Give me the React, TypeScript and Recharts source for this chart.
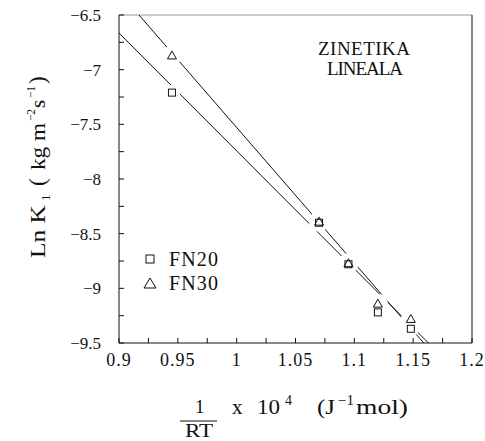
import { ScatterChart, Scatter, XAxis, YAxis, Legend, ReferenceLine } from "recharts";

// measured points, ln K1 vs 1/RT x 10^4
const fn20 = [
  { x: 0.945, y: -7.21 },
  { x: 1.07, y: -8.4 },
  { x: 1.095, y: -8.78 },
  { x: 1.12, y: -9.22 },
  { x: 1.148, y: -9.37 },
];
const fn30 = [
  { x: 0.945, y: -6.87 },
  { x: 1.07, y: -8.39 },
  { x: 1.095, y: -8.77 },
  { x: 1.12, y: -9.14 },
  { x: 1.148, y: -9.28 },
];

// fitted straight lines (end points)
const fit20 = [
  { x: 0.9, y: -6.665 },
  { x: 1.163, y: -9.5 },
];
const fit30 = [
  { x: 0.917, y: -6.5 },
  { x: 1.159, y: -9.5 },
];

const xTicks = [0.9, 0.925, 0.95, 0.975, 1, 1.025, 1.05, 1.075, 1.1, 1.125, 1.15, 1.175, 1.2];
const xMajor = ["0.9", "0.95", "1", "1.05", "1.1", "1.15", "1.2"];
const yTicks = [-9.5, -9.25, -9, -8.75, -8.5, -8.25, -8, -7.75, -7.5, -7.25, -7, -6.75, -6.5];
const yMajor = ["-9.5", "-9", "-8.5", "-8", "-7.5", "-7", "-6.5"];

const ink = "#111";
const serif = "Liberation Serif, DejaVu Serif, serif";
const txt = { fontFamily: serif };
const MINUS = "\u2212";

function XTick(props: any) {
  const { x, y, payload } = props;
  const label = String(payload.value);
  const major = xMajor.includes(label);
  return (
    <g>
      <line x1={x} y1={y} x2={x} y2={y - 5} stroke={ink} />
      {major && (
        <text x={x} y={y + 23} textAnchor="middle" fontSize={18} letterSpacing={1} style={txt} fill={ink}>
          {label}
        </text>
      )}
    </g>
  );
}

function YTick(props: any) {
  const { x, y, payload } = props;
  const label = String(payload.value);
  const major = yMajor.includes(label);
  return (
    <g>
      <line x1={x} y1={y} x2={x + 5} y2={y} stroke={ink} />
      {major && (
        <text x={x - 18} y={y + 6} textAnchor="end" fontSize={17} style={txt} fill={ink}>
          {label.replace("-", MINUS)}
        </text>
      )}
    </g>
  );
}

const Halo = (r: number) => (p: any) => <circle cx={p.cx} cy={p.cy} r={r} fill="#fff" />;

const Square = (p: any) => (
  <rect x={p.cx - 3.5} y={p.cy - 3.5} width={7} height={7} fill="none" stroke={ink} />
);

const Triangle = (p: any) => (
  <polygon
    points={`${p.cx},${p.cy - 4.5} ${p.cx - 4.5},${p.cy + 3.5} ${p.cx + 4.5},${p.cy + 3.5}`}
    fill="none"
    stroke={ink}
  />
);

const NoDot = () => <g />;

function LegendBox(props: any) {
  const items = (props.payload || []).filter((e: any) => e.value === "FN20" || e.value === "FN30");
  return (
    <svg width={100} height={52}>
      {items.map((e: any, i: number) => {
        const cy = 14 + i * 24;
        return (
          <g key={e.value}>
            {e.value === "FN20" ? (
              <rect x={13} y={cy - 4} width={8} height={8} fill="none" stroke={ink} />
            ) : (
              <polygon points={`17,${cy - 5} 11,${cy + 5} 23,${cy + 5}`} fill="none" stroke={ink} />
            )}
            <text x={36} y={cy + 7} fontSize={20} textLength={49} lengthAdjust="spacing" style={txt} fill={ink}>
              {e.value}
            </text>
          </g>
        );
      })}
    </svg>
  );
}

// piece of a title: text placed at x, optionally stretched to a fixed length
function Piece({ x, y, len, size, children }: any) {
  return (
    <text x={x} y={y} fontSize={size} textLength={len} lengthAdjust="spacingAndGlyphs" style={txt} fill={ink}>
      {children}
    </text>
  );
}

export default function App() {
  return (
    <div style={{ position: "absolute", left: 0, top: 0, width: 485, height: 441, background: "#fff" }}>
      <ScatterChart width={485} height={441} margin={{ top: 15, right: 13, bottom: 68, left: 0 }}>
        <XAxis
          type="number"
          dataKey="x"
          domain={[0.9, 1.2]}
          ticks={xTicks}
          interval={0}
          allowDataOverflow
          height={30}
          tickSize={0}
          tickMargin={0}
          tickLine={false}
          tick={<XTick />}
          stroke={ink}
        />
        <YAxis
          type="number"
          dataKey="y"
          domain={[-9.5, -6.5]}
          ticks={yTicks}
          interval={0}
          allowDataOverflow
          width={119}
          tickSize={0}
          tickMargin={0}
          tickLine={false}
          tick={<YTick />}
          stroke={ink}
        />
        <ReferenceLine y={-6.5} stroke="#999" />
        <ReferenceLine x={1.2} stroke={ink} />
        <Scatter name="fit FN20" data={fit20} line={{ stroke: ink, strokeWidth: 1 }} shape={NoDot} legendType="none" isAnimationActive={false} />
        <Scatter name="fit FN30" data={fit30} line={{ stroke: ink, strokeWidth: 1 }} shape={NoDot} legendType="none" isAnimationActive={false} />
        <Scatter name="halo FN20" data={fn20} shape={Halo(8)} legendType="none" isAnimationActive={false} />
        <Scatter name="halo FN30" data={fn30} shape={Halo(10)} legendType="none" isAnimationActive={false} />
        <Scatter name="FN20" data={fn20} shape={Square} isAnimationActive={false} />
        <Scatter name="FN30" data={fn30} shape={Triangle} isAnimationActive={false} />
        <Legend
          layout="vertical"
          align="center"
          verticalAlign="middle"
          content={<LegendBox />}
          wrapperStyle={{ position: "absolute", left: 133, top: 245, width: 100, height: 52 }}
        />
      </ScatterChart>
      <svg width={485} height={441} style={{ position: "absolute", left: 0, top: 0, pointerEvents: "none" }}>
        <text x={318} y={55} fontSize={19} textLength={92} lengthAdjust="spacing" style={txt} fill={ink}>ZINETIKA</text>
        <text x={327} y={75} fontSize={19} textLength={76} lengthAdjust="spacing" style={txt} fill={ink}>LINEALA</text>

        <g transform="rotate(-90)">
          <Piece x={-258} y={45} len={53} size={22}>Ln K</Piece>
          <Piece x={-201} y={50} size={13}>1</Piece>
          <Piece x={-186} y={45} size={23}>(</Piece>
          <Piece x={-170} y={45} len={47} size={21}>kg m</Piece>
          <Piece x={-121} y={35} len={12} size={13}>{MINUS + "2"}</Piece>
          <Piece x={-108} y={45} size={21}>s</Piece>
          <Piece x={-98} y={35} len={12} size={13}>{MINUS + "1"}</Piece>
          <Piece x={-84} y={45} size={23}>)</Piece>
        </g>

        <Piece x={195} y={413} size={19}>1</Piece>
        <line x1={180} y1={421} x2={217} y2={421} stroke={ink} />
        <Piece x={185} y={437} len={28} size={19}>RT</Piece>
        <Piece x={232} y={414} size={21}>x</Piece>
        <Piece x={257} y={414} len={23} size={20}>10</Piece>
        <Piece x={285} y={405} size={14}>4</Piece>
        <Piece x={317} y={414} len={18} size={20}>(J</Piece>
        <Piece x={338} y={405} len={16} size={14}>{MINUS + "1"}</Piece>
        <Piece x={356} y={414} len={52} size={21}>mol)</Piece>
      </svg>
    </div>
  );
}
